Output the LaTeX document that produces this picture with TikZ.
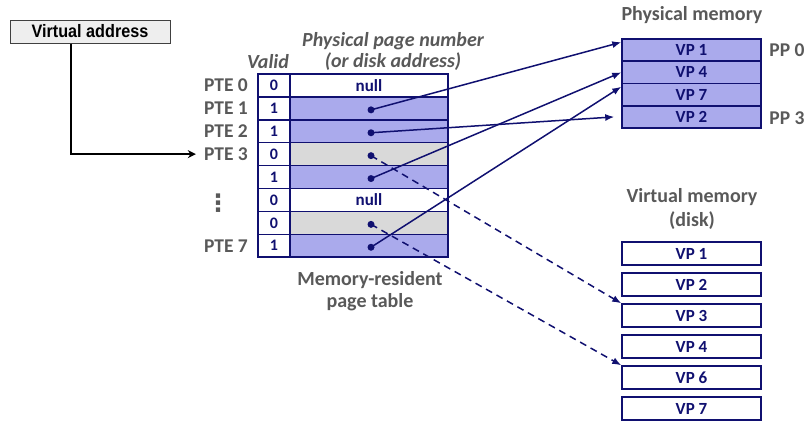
\documentclass[tikz,border=0pt]{standalone}
\usepackage{fontspec}
\setmainfont{Carlito}
\newfontfamily\vafont[FakeStretch=0.9]{Liberation Sans}
\newfontfamily\djv{DejaVu Sans}
\usetikzlibrary{arrows.meta,calc}
\definecolor{navy}{RGB}{16,16,112}
\definecolor{lav}{RGB}{170,170,236}
\definecolor{cellgray}{RGB}{217,217,217}
\definecolor{txtgray}{RGB}{89,89,89}
\definecolor{vabg}{RGB}{238,238,238}
\begin{document}
\begin{tikzpicture}[x=1pt,y=-1pt,
  cell/.style={draw=navy,line width=1.5pt,minimum height=22.9pt,inner sep=0pt,text=navy},
  vcell/.style={cell,minimum width=32pt,fill=white,font=\bfseries\fontsize{16}{16}\selectfont},
  pcell/.style={cell,minimum width=158pt,font=\bfseries\fontsize{17}{17}\selectfont},
  membox/.style={draw=navy,line width=1.5pt,minimum width=139pt,inner sep=0pt,text=navy,font=\bfseries\fontsize{17}{17}\selectfont},
  dotn/.style={circle,fill=navy,inner sep=0pt,minimum size=7pt},
  lbl/.style={text=txtgray,font=\bfseries\fontsize{19.5}{19.5}\selectfont,inner sep=0pt},
  ilbl/.style={text=txtgray,font=\bfseries\itshape\fontsize{20}{21}\selectfont,inner sep=0pt,align=center},
  link/.style={draw=navy,line width=1.5pt,-{Latex[length=9pt,width=7pt]}},
  dlink/.style={link,dash pattern=on 7pt off 5pt}]
\useasboundingbox (0,0) rectangle (810,421);
% virtual address box
\node[draw=black!75,fill=vabg,line width=1pt,minimum width=160pt,minimum height=23pt,inner sep=0pt,font=\vafont\bfseries\fontsize{18}{18}\selectfont] (va) at (90,31.5) {Virtual address};
% page table
\foreach \i/\v/\f/\t in {0/0/white/null,1/1/lav/,2/1/lav/,3/0/cellgray/,4/1/lav/,5/0/white/null,6/0/cellgray/,7/1/lav/}{
  \node[vcell] (v\i) at (274,{74+22.9*(\i+0.5)}) {\v};
  \node[pcell,fill=\f] (p\i) at (369,{74+22.9*(\i+0.5)}) {\t};
}
\foreach \i in {1,2,3,4,6,7}{
  \node[dotn] (d\i) at (371,{74+22.9*(\i+0.5)+1.5}) {};
}
% PTE labels
\node[lbl,anchor=east] (pte0) at (248,85.45) {PTE 0};
\node[lbl,anchor=east] (pte1) at (248,108.35) {PTE 1};
\node[lbl,anchor=east] (pte2) at (248,131.25) {PTE 2};
\node[lbl,anchor=east] (pte3) at (248,154.15) {PTE 3};
\node[text=txtgray,inner sep=0pt,font=\djv\bfseries\fontsize{24}{24}\selectfont] (vd) at (218,203) {⋮};
\node[lbl,anchor=east] (pte7) at (248,245.75) {PTE 7};
\node[ilbl] (valid) at (268,62) {Valid};
\node[ilbl] (ppn) at (393,51.5) {Physical page number\\(or disk address)};
\node[lbl,align=center,font=\bfseries\fontsize{20}{22}\selectfont] (mrpt) at (370,291) {Memory-resident\\page table};
% physical memory
\node[lbl,font=\bfseries\fontsize{20}{20}\selectfont] (pmt) at (692,15) {Physical memory};
\node[membox,fill=lav,minimum height=22.25pt] (pm0) at (691.5,50.1) {VP 1};
\node[membox,fill=lav,minimum height=22.25pt] (pm1) at (691.5,72.4) {VP 4};
\node[membox,fill=lav,minimum height=22.25pt] (pm2) at (691.5,94.6) {VP 7};
\node[membox,fill=lav,minimum height=22.25pt] (pm3) at (691.5,116.9) {VP 2};
\node[lbl] (pp0) at (787,50) {PP 0};
\node[lbl] (pp3) at (787,118) {PP 3};
% virtual memory (disk)
\node[lbl,align=center,font=\bfseries\fontsize{20}{24}\selectfont] (vmt) at (692,209) {Virtual memory\\(disk)};
\node[membox,fill=white,minimum height=23pt] (dk1) at (691.5,253.5) {VP 1};
\node[membox,fill=white,minimum height=23pt] (dk2) at (691.5,284.5) {VP 2};
\node[membox,fill=white,minimum height=23pt] (dk3) at (691.5,315.5) {VP 3};
\node[membox,fill=white,minimum height=23pt] (dk4) at (691.5,346.5) {VP 4};
\node[membox,fill=white,minimum height=23pt] (dk6) at (691.5,377.5) {VP 6};
\node[membox,fill=white,minimum height=23pt] (dk7) at (691.5,408.5) {VP 7};
% connectors
\draw[line width=1.5pt,-{Stealth[length=8pt,width=8pt]}] ([xshift=-19pt]va.south) |- ([xshift=-8pt]pte3.west);
\draw[link] (d1.center) -- ([yshift=-4pt]pm0.north west);
\draw[link] (d2.center) -- ([xshift=-7pt]pm3.west);
\draw[link] (d4.center) -- (pm1.west);
\draw[link] (d7.center) -- ([yshift=-4pt]pm2.north west);
\draw[dlink] (d3.center) -- (dk3.north west);
\draw[dlink] (d6.center) -- (dk6.north west);
\end{tikzpicture}
\end{document}
